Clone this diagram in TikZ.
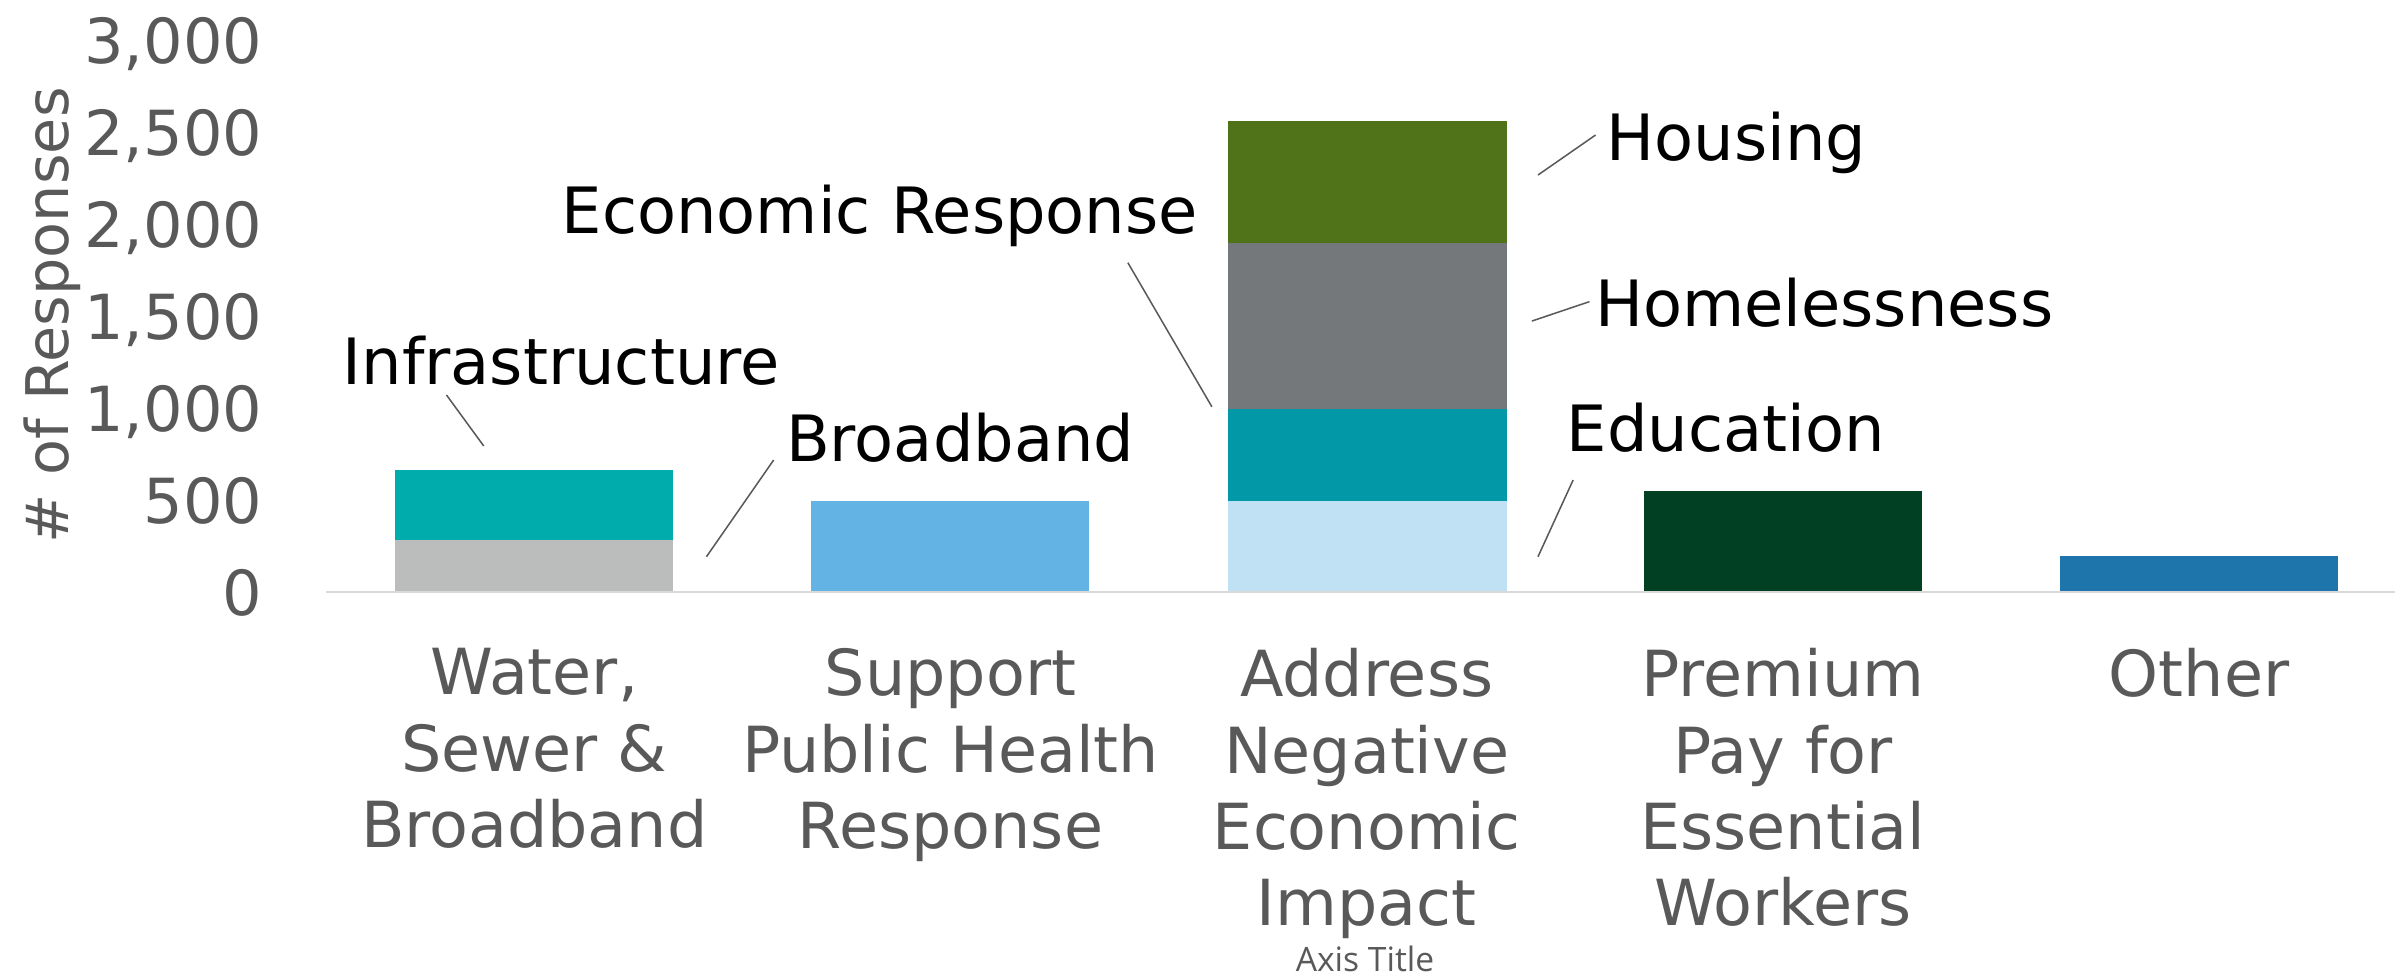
\documentclass[tikz,border=0pt]{standalone}
\usepackage{fontspec}
\setmainfont{DejaVu Sans}
\newfontfamily\axistitlefont{Open Sans}

\definecolor{cor_texto}{HTML}{595959}
\definecolor{cor_eixo}{HTML}{D9D9D9}
\definecolor{cor_cinza}{HTML}{BBBDBC}
\definecolor{cor_teal}{HTML}{00ADAC}
\definecolor{cor_azul}{HTML}{63B4E4}
\definecolor{cor_azulclaro}{HTML}{C0E0F3}
\definecolor{cor_petroleo}{HTML}{0398A8}
\definecolor{cor_chumbo}{HTML}{75787B}
\definecolor{cor_verde}{HTML}{507319}
\definecolor{cor_verdeescuro}{HTML}{024024}
\definecolor{cor_azulescuro}{HTML}{1D75AB}

\begin{document}
\begin{tikzpicture}[x=1pt, y=1pt]
        \tikzset{
            ticklabel/.style={
                anchor=base east,
                inner sep=0pt,
                text=cor_texto,
                font=\fontsize{40.7}{48}\selectfont,
                yshift=-15.5pt
            },
            catlabel/.style={
                anchor=north,
                inner sep=0pt,
                align=center,
                text=cor_texto,
                font=\fontsize{41.6}{50}\selectfont
            },
            datalabel/.style={
                anchor=base,
                inner sep=0pt,
                text=black,
                font=\fontsize{41.8}{48}\selectfont
            },
            leader/.style={
                draw=cor_texto,
                line width=1pt
            }
        }
        \useasboundingbox (0,-251.6) rectangle (1568,387.4);

        %barras (valores)
        \begin{scope}[y=0.12047pt]
            \fill[cor_cinza] (258.8,0) rectangle (440.7,281);
            \fill[cor_teal] (258.8,281) rectangle (440.7,662);

            \fill[cor_azul] (530.9,0) rectangle (713.2,493);

            \fill[cor_azulclaro] (803.7,0) rectangle (986.3,493);
            \fill[cor_petroleo] (803.7,493) rectangle (986.3,991);
            \fill[cor_chumbo] (803.7,991) rectangle (986.3,1893);
            \fill[cor_verde] (803.7,1893) rectangle (986.3,2558);

            \fill[cor_verdeescuro] (1076.3,0) rectangle (1258,547);

            \fill[cor_azulescuro] (1348.6,0) rectangle (1530.9,194);

            \foreach \v/\lab in {0/0, 500/500, 1000/{1,000}, 1500/{1,500}, 2000/{2,000}, 2500/{2,500}, 3000/{3,000}}
                \node[ticklabel] (tick\v) at (172,\v) {\lab};
        \end{scope}

        \draw[cor_eixo, line width=1.4pt] (213.3,0) -- (1568,0);

        %titulos dos eixos
        \node[anchor=base, rotate=90, inner sep=0pt, text=cor_texto, font=\fontsize{38.5}{46}\selectfont] (ytitle) at (44.8,180.8) {\# of Responses};
        \node[anchor=base, inner sep=0pt, text=cor_texto, font=\axistitlefont\fontsize{22}{26}\selectfont] (xtitle) at (893.7,-248.8) {Axis Title};

        %categorias
        \node[catlabel] (cat1) at (349.75,-37) {Water,\\Sewer \&\\Broadband};
        \node[catlabel] (cat2) at (622.25,-37) {Support\\Public Health\\Response};
        \node[catlabel] (cat3) at (894.75,-37) {Address\\Negative\\Economic\\Impact};
        \node[catlabel] (cat4) at (1167.25,-37) {Premium\\Pay for\\Essential\\Workers};
        \node[catlabel] (cat5) at (1439.75,-37) {Other};

        %rotulos dos dados
        \node[datalabel] (infra) at (367.4,135.4) {Infrastructure};
        \node[datalabel] (broad) at (628.6,85.1) {Broadband};
        \node[datalabel] (econ) at (576,234.4) {Economic Response};
        \node[datalabel] (housing) at (1136.8,282.6) {Housing};
        \node[datalabel] (homeless) at (1194.3,173.5) {Homelessness};
        \node[datalabel] (educ) at (1129.8,92.1) {Education};

        %linhas guia
        \coordinate (infra-a) at (292.3,128.8);
        \coordinate (infra-b) at (316.7,95.4);
        \coordinate (broad-a) at (506.5,86.2);
        \coordinate (broad-b) at (462.5,22.9);
        \coordinate (econ-a) at (738.4,215.4);
        \coordinate (econ-b) at (793.4,121.1);
        \coordinate (housing-a) at (1044.6,299);
        \coordinate (housing-b) at (1006.9,272.8);
        \coordinate (homeless-a) at (1040.6,189.9);
        \coordinate (homeless-b) at (1002.9,177.2);
        \coordinate (educ-a) at (1029.9,73.1);
        \coordinate (educ-b) at (1006.9,22.9);

        \draw[leader] (infra-a) -- (infra-b);
        \draw[leader] (broad-a) -- (broad-b);
        \draw[leader] (econ-a) -- (econ-b);
        \draw[leader] (housing-a) -- (housing-b);
        \draw[leader] (homeless-a) -- (homeless-b);
        \draw[leader] (educ-a) -- (educ-b);

    \end{tikzpicture}
\end{document}
